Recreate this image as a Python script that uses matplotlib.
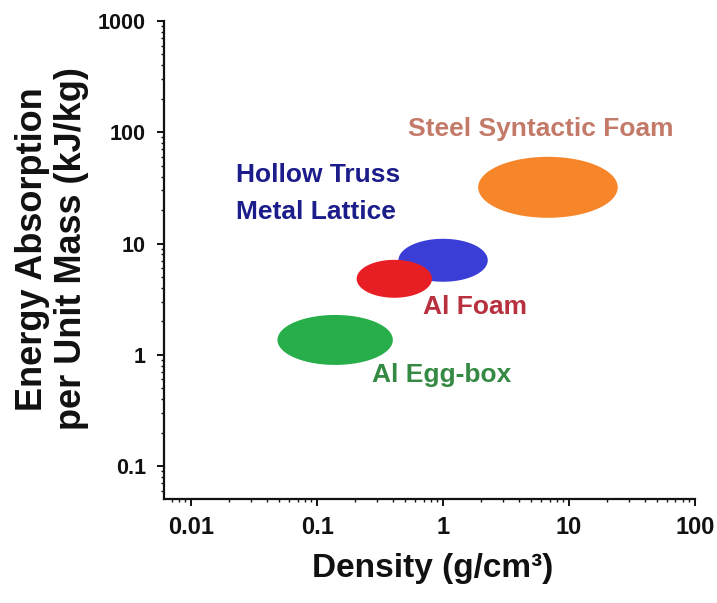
import matplotlib.pyplot as plt
import numpy as np

plt.rcParams['font.family'] = ['Liberation Sans', 'DejaVu Sans']
plt.rcParams['font.weight'] = 'bold'

# material regions: centre (density, energy) and extent in decades
materials = ['Steel Syntactic Foam', 'Hollow Truss Metal Lattice', 'Al Foam', 'Al Egg-box']
center_density = [6.8, 1.0, 0.41, 0.139]
center_energy = [32.0, 7.07, 4.82, 1.36]
width_decades = [1.108, 0.709, 0.598, 0.916]
height_decades = [0.548, 0.386, 0.341, 0.449]
fill_colors = ['#f7862a', '#3a3ed6', '#e81e25', '#27ae4a']

# text labels (left edge, baseline)
label_text = ['Steel Syntactic Foam', 'Hollow Truss', 'Metal Lattice', 'Al Foam', 'Al Egg-box']
label_x = [0.526, 0.0228, 0.0228, 0.693, 0.272]
label_y = [92.9, 35.8, 16.7, 2.34, 0.572]
label_colors = ['#c47a68', '#1c1c8a', '#1c1c8a', '#b8303e', '#348a42']

x_ticks = [0.01, 0.1, 1, 10, 100]
x_ticklabels = ['0.01', '0.1', '1', '10', '100']
y_ticks = [0.1, 1, 10, 100, 1000]
y_ticklabels = ['0.1', '1', '10', '100', '1000']

fig = plt.figure(figsize=(7.17, 6.03), dpi=100)
ax = fig.add_axes([0.2287, 0.1725, 0.7406, 0.7927])

t = np.linspace(0, 2 * np.pi, 300)
# draw order: orange, blue, green, red (red sits over blue)
for i in [0, 1, 3, 2]:
    lx = np.log10(center_density[i]) + width_decades[i] / 2 * np.cos(t)
    ly = np.log10(center_energy[i]) + height_decades[i] / 2 * np.sin(t)
    ax.fill(10 ** lx, 10 ** ly, color=fill_colors[i], lw=0, zorder=2)

for txt, x, y, c in zip(label_text, label_x, label_y, label_colors):
    ax.text(x, y, txt, color=c, fontsize=19, fontweight='bold',
            ha='left', va='baseline', zorder=3)

ax.set_xscale('log')
ax.set_yscale('log')
ax.set_xlim(0.00608, 100)
ax.set_ylim(0.0506, 1000)

ax.set_xticks(x_ticks)
ax.set_xticklabels(x_ticklabels)
ax.set_yticks(y_ticks)
ax.set_yticklabels(y_ticklabels)

for s in ['top', 'right']:
    ax.spines[s].set_visible(False)
for s in ['left', 'bottom']:
    ax.spines[s].set_linewidth(1.6)
    ax.spines[s].set_color('#111111')

ax.tick_params(which='major', direction='out', length=5, width=1.4, color='#111111')
ax.tick_params(which='minor', direction='out', length=2.5, width=1.0, color='#111111')
ax.tick_params(axis='x', which='major', labelsize=17, pad=7)
ax.tick_params(axis='y', which='major', labelsize=15.5, pad=8)
for lab in ax.get_xticklabels() + ax.get_yticklabels():
    lab.set_fontweight('bold')
    lab.set_color('#111111')

ax.set_xlabel('Density (g/cm\u00b3)', fontsize=24, fontweight='bold', color='#111111')
ax.xaxis.set_label_coords(0.505, -0.113)
ax.set_ylabel('Energy Absorption\nper Unit Mass (kJ/kg)', fontsize=26, fontweight='bold',
              color='#111111', linespacing=1.15)
ax.yaxis.set_label_coords(-0.141, 0.523)

fig.savefig('out.png', dpi=100)
